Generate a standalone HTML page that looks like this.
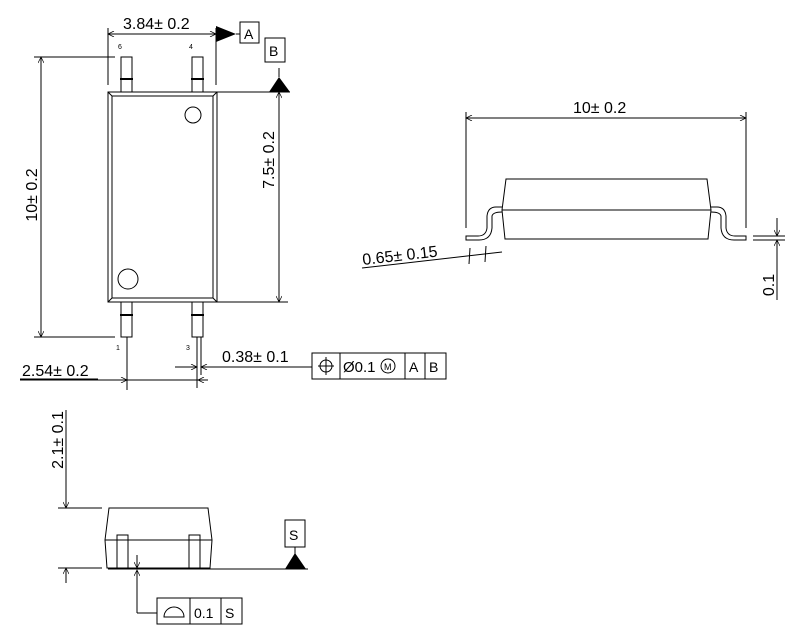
<!DOCTYPE html>
<html><head><style>body{margin:0;background:#fff}svg{display:block}</style></head><body>
<svg width="800" height="643" viewBox="0 0 800 643" xmlns="http://www.w3.org/2000/svg" font-family="Liberation Sans, sans-serif">
<defs>
<marker id="a" viewBox="0 0 10 10" refX="10" refY="5" markerWidth="8" markerHeight="6" orient="auto-start-reverse" markerUnits="userSpaceOnUse"><path d="M0 0L10 5L0 10" fill="none" stroke="#000" stroke-width="1.2"/></marker>
</defs>
<g stroke="#000" stroke-width="1" fill="none">
<!-- top view -->
<rect x="108" y="92" width="109" height="210"/>
<rect x="112" y="96" width="101" height="202"/>
<line x1="108" y1="92" x2="112" y2="96"/><line x1="217" y1="92" x2="213" y2="96"/><line x1="108" y1="302" x2="112" y2="298"/><line x1="217" y1="302" x2="213" y2="298"/>
<circle cx="193" cy="115" r="8"/><circle cx="128" cy="279" r="10"/>
<rect x="121" y="57" width="11" height="35"/><rect x="192" y="57" width="11" height="35"/>
<rect x="121" y="302" width="11" height="35"/><rect x="192" y="302" width="11" height="35"/>
<g stroke-width="2"><line x1="120" y1="79" x2="133" y2="79"/><line x1="191" y1="79" x2="204" y2="79"/><line x1="120" y1="315" x2="133" y2="315"/><line x1="191" y1="315" x2="204" y2="315"/></g>
<line x1="127" y1="337" x2="127" y2="390"/><line x1="197" y1="337" x2="197" y2="388"/><line x1="201" y1="337" x2="201" y2="375"/>
<!-- 10 dim -->
<line x1="34" y1="57" x2="115" y2="57"/><line x1="34" y1="337" x2="115" y2="337"/>
<line x1="41" y1="57" x2="41" y2="337" marker-start="url(#a)" marker-end="url(#a)"/>
<!-- 3.84 -->
<line x1="108" y1="28" x2="108" y2="85"/><line x1="216" y1="28" x2="216" y2="85"/>
<line x1="108" y1="34" x2="216" y2="34" marker-start="url(#a)" marker-end="url(#a)"/>
<line x1="236" y1="34" x2="240" y2="34"/><rect x="240" y="22" width="19" height="21"/>
<rect x="265" y="38" width="20" height="24"/><line x1="279" y1="68" x2="279" y2="77"/>
<!-- 7.5 -->
<line x1="217" y1="92" x2="290" y2="92"/><line x1="217" y1="302" x2="288" y2="302"/>
<line x1="279" y1="92" x2="279" y2="302" marker-start="url(#a)" marker-end="url(#a)"/>
<!-- 2.54 -->
<line x1="20" y1="380" x2="127" y2="380" marker-end="url(#a)"/>
<line x1="127" y1="380" x2="208" y2="380"/><line x1="208" y1="380" x2="198" y2="380" marker-end="url(#a)"/>
<!-- 0.38 -->
<line x1="175" y1="367" x2="197" y2="367" marker-end="url(#a)"/>
<line x1="312" y1="367" x2="201" y2="367" marker-end="url(#a)"/>
<rect x="312" y="353" width="134" height="26"/>
<line x1="340" y1="353" x2="340" y2="379"/><line x1="405" y1="353" x2="405" y2="379"/><line x1="425" y1="353" x2="425" y2="379"/>
<circle cx="326" cy="366" r="6"/><line x1="326" y1="357" x2="326" y2="375"/><line x1="318" y1="366" x2="334" y2="366"/>
<circle cx="388" cy="366" r="7"/>
<!-- side view -->
<line x1="466" y1="112" x2="466" y2="228"/><line x1="746" y1="112" x2="746" y2="228"/>
<line x1="466" y1="118" x2="746" y2="118" marker-start="url(#a)" marker-end="url(#a)"/>
<path d="M506 179H707L711 210L708 239H505L502 210Z"/><line x1="502" y1="210" x2="711" y2="210"/>
<path d="M502 207H496Q488 207 487 216V228Q486 236 478 236H466V240H479Q491 240 492 228V216Q493 212 502 212"/>
<path d="M711 207H717Q725 207 726 216V228Q727 236 735 236H746V240H734Q722 240 721 228V216Q720 212 711 212"/>
<line x1="753" y1="236" x2="785" y2="236"/><line x1="753" y1="240" x2="785" y2="240"/>
<line x1="777" y1="218" x2="777" y2="236" marker-end="url(#a)"/><line x1="777" y1="300" x2="777" y2="240" marker-end="url(#a)"/>
<line x1="362" y1="268" x2="502" y2="252"/>
<line x1="470" y1="248" x2="469" y2="264"/><line x1="486" y1="246" x2="485" y2="262"/>
<!-- front view -->
<line x1="58" y1="508" x2="102" y2="508"/><line x1="58" y1="568" x2="102" y2="568"/>
<line x1="66" y1="410" x2="66" y2="508" marker-end="url(#a)"/><line x1="66" y1="583" x2="66" y2="568" marker-end="url(#a)"/>
<path d="M109 508H208L212 540L210 568H107L105 540Z"/><line x1="105" y1="540" x2="212" y2="540"/>
<rect x="117" y="535" width="11" height="33"/><rect x="189" y="535" width="11" height="33"/>
<line x1="108" y1="569" x2="308" y2="569"/>
<rect x="285" y="520" width="20" height="27"/><line x1="295" y1="547" x2="295" y2="555"/>
<line x1="137" y1="613" x2="137" y2="570" marker-end="url(#a)"/><line x1="137" y1="555" x2="137" y2="568" marker-end="url(#a)"/>
<line x1="137" y1="613" x2="157" y2="613"/>
<rect x="157" y="598" width="85" height="26"/><line x1="190" y1="598" x2="190" y2="624"/><line x1="221" y1="598" x2="221" y2="624"/>
<path d="M164 617A10 10 0 0 1 184 617Z"/>
</g>
<g fill="#000">
<path d="M216 26L236 34L216 42Z"/><path d="M279 77L290 92L269 92Z"/><path d="M295 553L306 569L285 569Z"/>
</g>
<g font-size="16" fill="#000">
<text x="123" y="29">3.84± 0.2</text>
<text x="244" y="39" font-size="14">A</text><text x="269" y="56" font-size="14">B</text>
<text x="118" y="49" font-size="7">6</text><text x="189" y="49" font-size="7">4</text>
<text x="116" y="350" font-size="7">1</text><text x="186" y="350" font-size="7">3</text>
<text transform="translate(37,195) rotate(-90)" text-anchor="middle">10± 0.2</text>
<text transform="translate(274,160) rotate(-90)" text-anchor="middle">7.5± 0.2</text>
<text x="22" y="376">2.54± 0.2</text><line x1="20" y1="379" x2="98" y2="379" stroke="#000"/>
<text x="222" y="362">0.38± 0.1</text>
<text x="343" y="372" font-size="15">Ø0.1</text><text x="384" y="370" font-size="9">M</text>
<text x="409" y="372" font-size="14">A</text><text x="429" y="372" font-size="14">B</text>
<text x="573" y="113">10± 0.2</text>
<text transform="translate(774,285) rotate(-90)" text-anchor="middle">0.1</text>
<text transform="translate(363,265) rotate(-6.5)">0.65± 0.15</text>
<text transform="translate(63,440) rotate(-90)" text-anchor="middle">2.1± 0.1</text>
<text x="289" y="540" font-size="14">S</text>
<text x="194" y="618" font-size="14">0.1</text><text x="225" y="618" font-size="14">S</text>
</g>
</svg>
</body></html>
